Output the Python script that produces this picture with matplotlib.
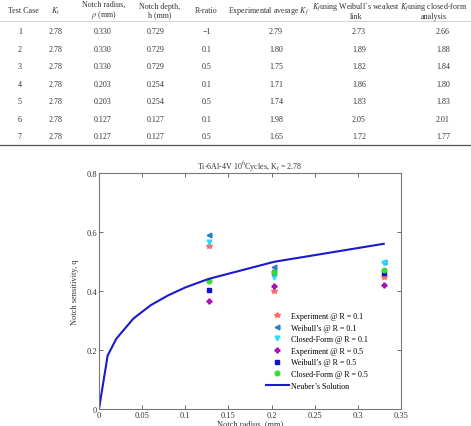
import matplotlib
matplotlib.use("Agg")
import matplotlib.pyplot as plt
import numpy as np

plt.rcParams["font.family"] = ["Liberation Serif", "DejaVu Serif"]
plt.rcParams["mathtext.fontset"] = "stix"

# table contents
headers = ["Test Case", "$K_t$", "Notch radius,\n$\\rho$ (mm)", "Notch depth,\nh (mm)", "R-ratio",
           "Experimental average $K_f$", "$K_f$using Weibull`s weakest\nlink",
           "$K_f$using closed-form\nanalysis"]
test_case = ["1", "2", "3", "4", "5", "6", "7"]
kt_col = ["2.78"] * 7
radius_col = ["0.330", "0.330", "0.330", "0.203", "0.203", "0.127", "0.127"]
depth_col = ["0.729", "0.729", "0.729", "0.254", "0.254", "0.127", "0.127"]
r_ratio_col = ["\u22121", "0.1", "0.5", "0.1", "0.5", "0.1", "0.5"]
exp_kf_col = ["2.79", "1.80", "1.75", "1.71", "1.74", "1.98", "1.65"]
weib_kf_col = ["2.73", "1.89", "1.82", "1.86", "1.83", "2.05", "1.72"]
closed_kf_col = ["2.66", "1.88", "1.84", "1.80", "1.83", "2.01", "1.77"]

# chart data
radius_r01 = [0.127, 0.203, 0.330]
exp_r01 = [0.551, 0.399, 0.449]
weib_r01 = [0.590, 0.483, 0.500]
closed_r01 = [0.567, 0.449, 0.494]
radius_r05 = [0.127, 0.203, 0.330]
exp_r05 = [0.365, 0.416, 0.421]
weib_r05 = [0.404, 0.466, 0.461]
closed_r05 = [0.433, 0.466, 0.472]
neuber_r = [0, 0.01, 0.02, 0.04, 0.06, 0.08, 0.1, 0.127, 0.203, 0.33]
neuber_q = [0, 0.181, 0.238, 0.307, 0.352, 0.385, 0.412, 0.441, 0.499, 0.560]

W, H = 471, 427
fig = plt.figure(figsize=(W / 100, H / 100), dpi=100)

# ---- table drawn as text ----
col_x = [20, 56, 103, 156, 207, 276, 359, 443]
header_x = [23, 56, 104, 160, 206, 269, 356, 434]
row_y = [32, 50, 67, 85, 102, 120, 137]
for hx, h in zip(header_x, headers):
    fig.text(hx / W, 1 - 11 / H, h, ha="center", va="center", fontsize=5.8,
             color="#333333", linespacing=1.0)
columns = [test_case, kt_col, radius_col, depth_col, r_ratio_col, exp_kf_col, weib_kf_col, closed_kf_col]
for cx, col in zip(col_x, columns):
    for ry, val in zip(row_y, col):
        fig.text(cx / W, 1 - ry / H, val, ha="center", va="center", fontsize=5.8, color="#333333")
fig.add_artist(plt.Line2D([0, 1], [1 - 21.5 / H, 1 - 21.5 / H], color="#cccccc", lw=0.6))
fig.add_artist(plt.Line2D([0, 1], [1 - 145.5 / H, 1 - 145.5 / H], color="#555555", lw=0.9))

# ---- chart ----
ax = fig.add_axes([99 / W, 1 - 410 / H, 302 / W, 236 / H])
ax.plot(radius_r01, exp_r01, ls="none", marker="*", ms=3.8, color="#ff6a6a", label="Experiment @ R = 0.1")
ax.plot(radius_r01, weib_r01, ls="none", marker="<", ms=3.4, color="#2c7fc0", label="Weibull\u2019s @ R = 0.1")
ax.plot(radius_r01, closed_r01, ls="none", marker="v", ms=3.4, color="#22ddff", label="Closed-Form @ R = 0.1")
ax.plot(radius_r05, exp_r05, ls="none", marker="P", ms=3.4, color="#b010c0", label="Experiment @ R = 0.5")
ax.plot(radius_r05, weib_r05, ls="none", marker="s", ms=3.0, color="#1010d0", label="Weibull\u2019s @ R = 0.5")
ax.plot(radius_r05, closed_r05, ls="none", marker="o", ms=3.3, color="#33dd33", label="Closed-Form @ R = 0.5")
ax.plot(neuber_r, neuber_q, color="#1a1acc", lw=1.5, label="Neuber\u2019s Solution")

ax.set_xlim(0, 0.35)
ax.set_ylim(0, 0.8)
ax.set_xticks(np.arange(0, 0.351, 0.05))
ax.set_xticklabels(["0", "0.05", "0.1", "0.15", "0.2", "0.25", "0.3", "0.35"])
ax.set_yticks([0, 0.2, 0.4, 0.6, 0.8])
ax.set_yticklabels(["0", "0.2", "0.4", "0.6", "0.8"])
ax.tick_params(direction="in", length=3, width=0.6, labelsize=6.0, colors="#555555",
               labelcolor="#333333", top=True, right=True, pad=1.5)
for s in ax.spines.values():
    s.set_color("#777777")
    s.set_linewidth(0.8)
ax.set_title("Ti-6Al-4V 10$^6$Cycles, K$_t$ = 2.78", fontsize=5.8, color="#333333", pad=3)
ax.set_xlabel("Notch radius, (mm)", fontsize=6.0, color="#333333", labelpad=0)
ax.set_ylabel("Notch sensitivity, q", fontsize=6.0, color="#333333", labelpad=5)
ax.legend(loc="lower right", bbox_to_anchor=(0.905, 0.065), frameon=False, fontsize=5.8,
          handlelength=2.9, handletextpad=0.3, labelspacing=0.45, borderpad=0)

fig.savefig("out.png", dpi=100)
